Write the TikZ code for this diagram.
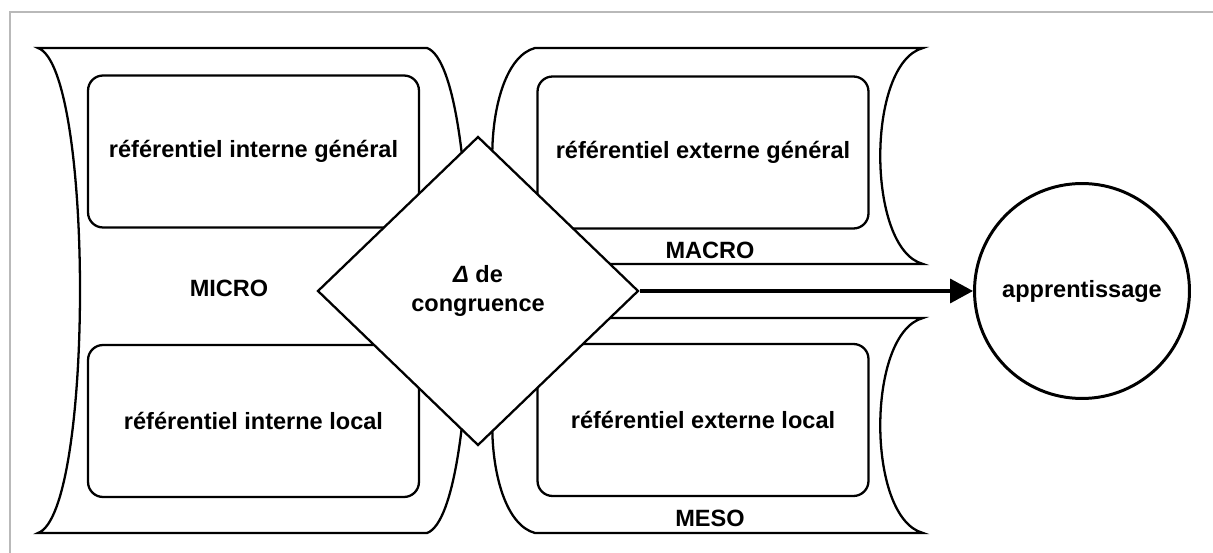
\documentclass[tikz,border=0pt]{standalone}
\usepackage{fontspec}
\setmainfont{Liberation Sans}
\usetikzlibrary{arrows.meta,shapes.geometric}

\begin{document}
\begin{tikzpicture}[
	x=0.02cm, y=-0.02cm,
	>={Triangle[length=0.46cm,width=0.48cm]},
	line width=1.3pt,
	lbl/.style={font=\fontsize{13.4}{16}\selectfont\bfseries,align=center},
	refbox/.style={lbl,draw,rounded corners=0.3cm,minimum width=6.62cm,minimum height=3.04cm,inner sep=0},
	congr/.style={lbl,draw,diamond,fill=white,minimum width=6.42cm,minimum height=6.18cm,inner sep=0},
	result/.style={lbl,draw,circle,minimum size=4.3cm,line width=1.7pt}
	]
	\useasboundingbox (0,0) rectangle (1213,553);
	% frame
	\draw[gray!55,line width=0.8pt] (10,553) -- (10,12) -- (1213,12);
	% MICRO
	\draw (38,48) -- (427,48) .. controls (483,68) and (483,513) .. (427,533)
		-- (38,533) .. controls (94,513) and (94,68) .. cycle;
	% MACRO
	\draw (535,48) -- (923,48) .. controls (866,63) and (866,249) .. (923,264)
		-- (535,264) .. controls (478,249) and (478,63) .. cycle;
	% MESO
	\draw (535,318) -- (923,318) .. controls (866,333) and (866,518) .. (923,533)
		-- (535,533) .. controls (478,518) and (478,333) .. cycle;
	\node [lbl] (micro) at (229,288) {MICRO};
	\node [lbl] (macro) at (710,250) {MACRO};
	\node [lbl] (meso) at (710,518) {MESO};
	\node [refbox] (intgen) at (253.5,151.5) {référentiel interne général};
	\node [refbox] (extgen) at (703,152.5) {référentiel externe général};
	\node [refbox] (intloc) at (253.5,421) {référentiel interne local};
	\node [refbox] (extloc) at (703,420) {référentiel externe local};
	\node [congr] (cong) at (478,291) {\textit{Δ} de\\congruence};
	\node [result] (learn) at (1082,291) {apprentissage};
	\draw[->,line width=2pt] (cong.east) -- (learn.west);
\end{tikzpicture}
\end{document}
